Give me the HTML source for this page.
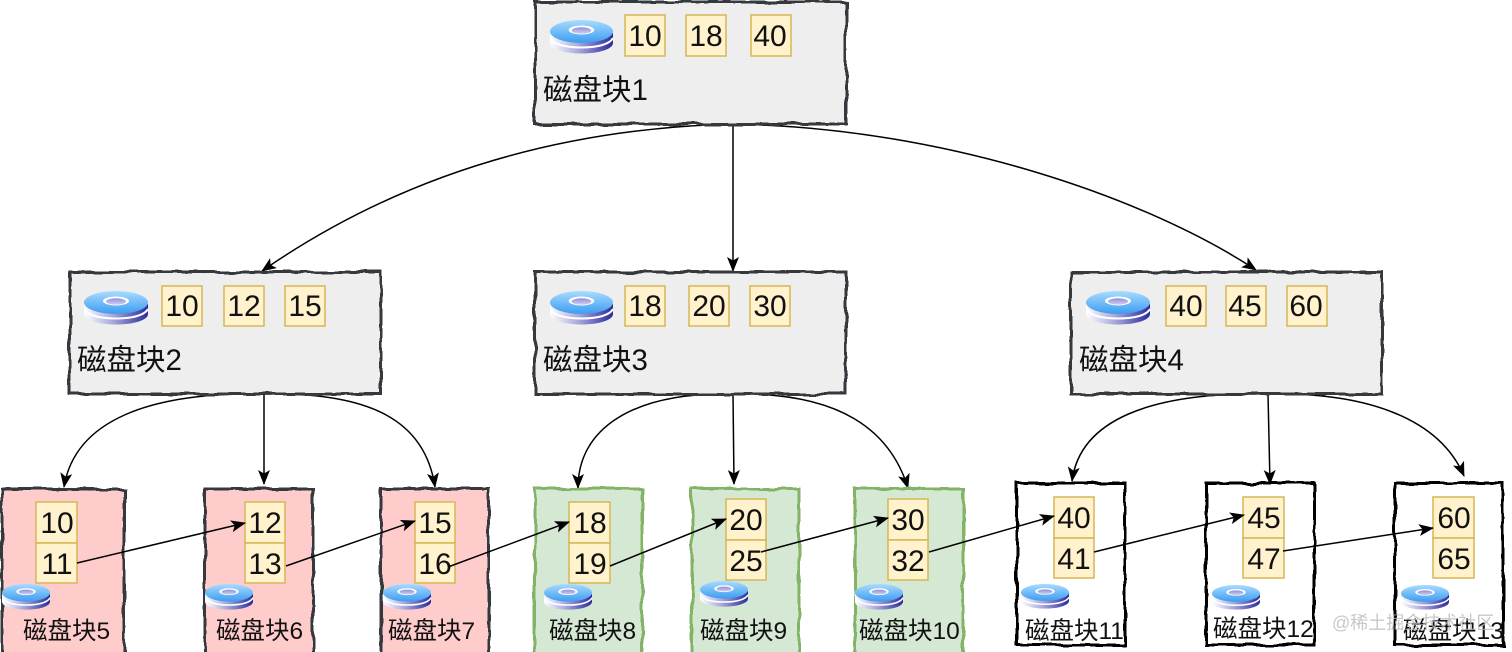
<!DOCTYPE html>
<html><head><meta charset="utf-8">
<style>
html,body{margin:0;padding:0;background:#fff;width:1512px;height:652px;overflow:hidden}
svg{display:block;filter:blur(.35px)}
text{font-family:"Liberation Sans","Noto Sans CJK SC",sans-serif;fill:#111}
.n{font-size:30px;text-anchor:middle}
.t{font-size:29.500px}
.l{font-size:24.500px}
.c{fill:#fff2cc;stroke:#d6b656;stroke-width:1.5}
.a{fill:none;stroke:#000;stroke-width:1.5;marker-end:url(#ah)}
.g{fill:#eeeeee;stroke:#36393d;stroke-width:3;filter:url(#w)}
.r{fill:#ffcccc;stroke:#36393d;stroke-width:3;filter:url(#w)}
.v{fill:#d5e8d4;stroke:#82b366;stroke-width:3;filter:url(#w)}
.k{fill:#fff;stroke:#000;stroke-width:3;filter:url(#w)}
</style></head>
<body>
<svg width="1512" height="652" viewBox="0 0 1512 652" xmlns="http://www.w3.org/2000/svg">
<defs>
<filter id="w" x="-5%" y="-5%" width="110%" height="110%"><feTurbulence type="fractalNoise" baseFrequency="0.05" numOctaves="2" seed="4"/><feDisplacementMap in="SourceGraphic" scale="5"/></filter>
<marker id="ah" markerWidth="16" markerHeight="14" refX="14" refY="6" orient="auto" markerUnits="userSpaceOnUse"><path d="M0 0L15 6L0 12L3.500 6Z" fill="#000"/></marker>
<linearGradient id="top" x1="0" y1="0" x2="0" y2="1"><stop offset="0" stop-color="#a8dcff"/><stop offset="1" stop-color="#3d9cf0"/></linearGradient>
<linearGradient id="side" x1="0" y1="0" x2="1" y2="0"><stop offset="0" stop-color="#ffffff"/><stop offset="0.45" stop-color="#a8a8dc"/><stop offset="1" stop-color="#2a2a9c"/></linearGradient>
<linearGradient id="hole" x1="0" y1="0" x2="0" y2="1"><stop offset="0" stop-color="#8f8fd8"/><stop offset="1" stop-color="#d0d0f0"/></linearGradient>
<symbol id="d" viewBox="0 0 64 34" preserveAspectRatio="none">
<path d="M0 13V23C0 29 14 33.500 32 33.500S64 29 64 23V13Z" fill="url(#side)"/>
<path d="M0 18C3 24 15 27.500 32 27.500S61 24 64 18" fill="none" stroke="#fff" stroke-width="2"/>
<ellipse cx="32" cy="11.500" rx="32" ry="11.500" fill="url(#top)"/>
<ellipse cx="32" cy="10" rx="13" ry="4.500" fill="#fff"/>
<ellipse cx="32" cy="10.500" rx="10" ry="3.200" fill="url(#hole)"/>
</symbol>
</defs>

<!-- connectors under boxes -->
<path class="a" d="M733 124C500 130 350 210 262 271"/>
<path class="a" d="M733 124V271"/>
<path class="a" d="M733 124C950 128 1150 200 1256 270"/>
<path class="a" d="M264 394C150 392 75 420 64 487"/>
<path class="a" d="M264 394V484"/>
<path class="a" d="M264 394C370 392 425 420 435 487"/>
<path class="a" d="M733 394C630 392 578 430 578 488"/>
<path class="a" d="M733 394L734 484"/>
<path class="a" d="M733 394C840 392 890 430 908 488"/>
<path class="a" d="M1268 394C1150 392 1080 420 1072 481"/>
<path class="a" d="M1268 394L1270 484"/>
<path class="a" d="M1268 394C1370 392 1440 420 1464 476"/>

<!-- boxes -->
<rect class="g" x="535" y="2" width="311" height="122"/>
<rect class="g" x="70" y="272" width="311" height="122"/>
<rect class="g" x="535" y="272" width="311" height="122"/>
<rect class="g" x="1071" y="272" width="311" height="122"/>
<rect class="r" x="2" y="489" width="122" height="170"/>
<rect class="r" x="205" y="489" width="108" height="170"/>
<rect class="r" x="381" y="489" width="108" height="170"/>
<rect class="v" x="535" y="489" width="107" height="170"/>
<rect class="v" x="692" y="489" width="107" height="170"/>
<rect class="v" x="855" y="489" width="108" height="170"/>
<rect class="k" x="1017" y="483" width="108" height="162"/>
<rect class="k" x="1206" y="483" width="108" height="162"/>
<rect class="k" x="1395" y="483" width="108" height="162"/>

<!-- disks -->
<use href="#d" x="550" y="20" width="63" height="34"/>
<use href="#d" x="84" y="291" width="64" height="34"/>
<use href="#d" x="550" y="291" width="63" height="34"/>
<use href="#d" x="1086" y="291" width="64" height="34"/>
<use href="#d" x="2" y="584" width="48" height="26"/>
<use href="#d" x="205" y="584" width="48" height="26"/>
<use href="#d" x="383" y="584" width="48" height="26"/>
<use href="#d" x="544" y="584" width="48" height="26"/>
<use href="#d" x="700" y="581" width="48" height="26"/>
<use href="#d" x="855" y="584" width="48" height="26"/>
<use href="#d" x="1021" y="584" width="48" height="25"/>
<use href="#d" x="1212" y="585" width="48" height="25"/>
<use href="#d" x="1401" y="585" width="48" height="25"/>

<!-- upper cells -->
<rect class="c" x="625" y="15" width="40" height="41"/><text class="n" x="645" y="46">10</text>
<rect class="c" x="686" y="15" width="40" height="41"/><text class="n" x="706" y="46">18</text>
<rect class="c" x="751" y="15" width="40" height="41"/><text class="n" x="770" y="46">40</text>
<rect class="c" x="162" y="286" width="40" height="40"/><text class="n" x="182" y="316">10</text>
<rect class="c" x="224" y="286" width="40" height="40"/><text class="n" x="244" y="316">12</text>
<rect class="c" x="285" y="286" width="40" height="40"/><text class="n" x="305" y="316">15</text>
<rect class="c" x="625" y="286" width="40" height="40"/><text class="n" x="645" y="316">18</text>
<rect class="c" x="689" y="286" width="40" height="40"/><text class="n" x="709" y="316">20</text>
<rect class="c" x="750" y="286" width="40" height="40"/><text class="n" x="770" y="316">30</text>
<rect class="c" x="1166" y="286" width="40" height="40"/><text class="n" x="1186" y="316">40</text>
<rect class="c" x="1226" y="286" width="40" height="40"/><text class="n" x="1245" y="316">45</text>
<rect class="c" x="1287" y="286" width="40" height="40"/><text class="n" x="1306" y="316">60</text>

<!-- leaf cells -->
<rect class="c" x="36" y="502" width="41" height="41"/><text class="n" x="57" y="533">10</text>
<rect class="c" x="36" y="543" width="41" height="40"/><text class="n" x="57" y="574">11</text>
<rect class="c" x="245" y="502" width="40" height="41"/><text class="n" x="265" y="533">12</text>
<rect class="c" x="245" y="543" width="40" height="40"/><text class="n" x="265" y="574">13</text>
<rect class="c" x="415" y="502" width="40" height="41"/><text class="n" x="435" y="533">15</text>
<rect class="c" x="415" y="543" width="40" height="40"/><text class="n" x="435" y="574">16</text>
<rect class="c" x="569" y="502" width="41" height="41"/><text class="n" x="590" y="533">18</text>
<rect class="c" x="569" y="543" width="41" height="40"/><text class="n" x="590" y="574">19</text>
<rect class="c" x="726" y="499" width="40" height="41"/><text class="n" x="746" y="530">20</text>
<rect class="c" x="726" y="540" width="40" height="40"/><text class="n" x="746" y="571">25</text>
<rect class="c" x="888" y="499" width="40" height="41"/><text class="n" x="908" y="530">30</text>
<rect class="c" x="888" y="540" width="40" height="40"/><text class="n" x="908" y="571">32</text>
<rect class="c" x="1054" y="497" width="40" height="41"/><text class="n" x="1074" y="528">40</text>
<rect class="c" x="1054" y="538" width="40" height="40"/><text class="n" x="1074" y="569">41</text>
<rect class="c" x="1243" y="497" width="41" height="41"/><text class="n" x="1264" y="528">45</text>
<rect class="c" x="1243" y="538" width="41" height="40"/><text class="n" x="1264" y="569">47</text>
<rect class="c" x="1433" y="497" width="41" height="41"/><text class="n" x="1454" y="528">60</text>
<rect class="c" x="1433" y="538" width="41" height="40"/><text class="n" x="1454" y="569">65</text>

<!-- leaf links -->
<path class="a" d="M77 563L245 523"/>
<path class="a" d="M286 566L415 521"/>
<path class="a" d="M448 567L569 522"/>
<path class="a" d="M610 566L726 519"/>
<path class="a" d="M761 552L888 518"/>
<path class="a" d="M929 552L1054 516"/>
<path class="a" d="M1094 552L1244 515"/>
<path class="a" d="M1283 551L1433 528"/>

<!-- labels -->
<text class="t" x="543" y="100">磁盘块1</text>
<text class="t" x="77" y="370">磁盘块2</text>
<text class="t" x="543" y="370">磁盘块3</text>
<text class="t" x="1079" y="370">磁盘块4</text>
<text class="l" x="23" y="639">磁盘块5</text>
<text class="l" x="216" y="639">磁盘块6</text>
<text class="l" x="388" y="639">磁盘块7</text>
<text class="l" x="549" y="639">磁盘块8</text>
<text class="l" x="700" y="639">磁盘块9</text>
<text class="l" x="859" y="639">磁盘块10</text>
<text class="l" x="1025" y="639">磁盘块11</text>
<text class="l" x="1213" y="637">磁盘块12</text>
<text class="l" x="1403" y="639">磁盘块13</text>
<text x="1332" y="629" style="font-size:18px;fill:#b5b5b5;fill-opacity:.75">@稀土掘金技术社区</text>
</svg>
</body></html>
